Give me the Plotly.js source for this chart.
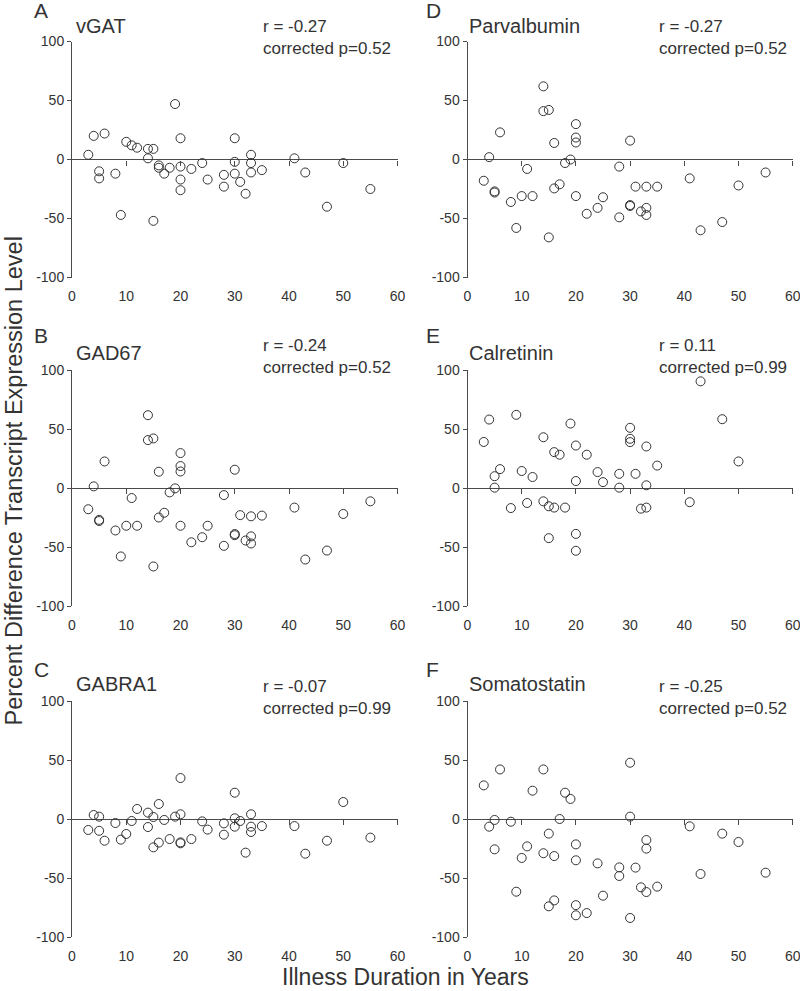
<!DOCTYPE html>
<html>
<head>
<meta charset="utf-8">
<script src="https://cdn.plot.ly/plotly-3.0.1.min.js"></script>
<style>
html,body{margin:0;padding:0;background:#ffffff;}
#chart{width:800px;height:991px;}
</style>
</head>
<body>
<div id="chart"></div>
<script>
// ---------- data (illness duration in years vs percent difference) ----------
const duration = [3,4,5,5,6,8,9,10,11,12,14,14,15,15,16,16,17,18,19,20,20,20,20,22,24,25,28,28,30,30,30,31,32,33,33,33,35,41,43,47,50,55];
const durationCalretinin = [3,4,5,5,6,8,9,10,11,12,14,14,15,15,16,16,17,18,19,20,20,20,20,22,24,25,28,28,30,30,30,31,32,33,33,33,35,41,43,47,50];

const vGAT = [4,20,-10,-16,22,-12,-47,15,12,10,9,1,9,-52,-5,-7,-12,-7,47,18,-6,-17,-26,-8,-3,-17,-13,-23,18,-2,-12,-19,-29,4,-3,-11,-9,1,-11,-40,-3,-25];
const gad67 = [-18,1.4,-27,-28,22.5,-36,-58,-32,-8.5,-32,61.7,40.6,42,-66.5,13.8,-25,-21,-3.7,-0.3,29.6,18.6,14,-32,-46,-41.7,-32,-6,-49,15.5,-39,-40,-23,-44.5,-24,-41,-47,-23.4,-16.6,-60.6,-53,-22,-11.3];
const gabra1 = [-9.3,3.4,2,-10,-18.4,-3.4,-17.5,-12.7,-1.7,8.5,5.4,-6.8,1.7,-24,12.7,-20,-0.8,-17,2,34.7,4,-19.8,-20.6,-17,-2,-9,-3.7,-13.3,22.3,0.6,-6.5,-1.7,-28.5,4,-6.5,-11,-6,-6,-29.4,-18.4,14.4,-15.8];
const parvalbumin = [-18,2,-27,-28,23,-36,-58,-31,-8,-31,62,41,42,-66,14,-24.5,-21,-3,0,30,18.6,14.4,-31,-46,-41,-32,-6,-49,16,-38.6,-39.4,-23,-44,-23,-41,-47,-23,-16,-60,-53,-22,-11];
const calretinin = [39,58,10,0.3,16,-17,62,14.4,-12.7,9.3,43,-11.3,-15.5,-42.5,30.4,-16.6,28.2,-16.6,54.6,36,5.9,-38.9,-53.2,28.2,13.5,5,12,0.3,51,41.7,38.9,12,-17.5,35.2,2.3,-16.6,19,-12,90.4,58.3,22.5];
const somatostatin = [28.5,-6.5,-0.8,-25.7,42,-2.3,-61.6,-33,-23.2,24,42,-29,-12.4,-74,-31.4,-69,0,22.3,17,-21.5,-35,-73,-81.6,-79.7,-37.6,-65,-41,-48.3,47.7,2,-83.9,-41.2,-57.9,-17.8,-25.1,-61.9,-57.3,-6.2,-46.6,-12.4,-19.5,-45.5];

const panelLetters = ['A','D','B','E','C','F'];
const geneNames = ['vGAT','Parvalbumin','GAD67','Calretinin','GABRA1','Somatostatin'];
const rValues = ['r = -0.27','r = -0.27','r = -0.24','r = 0.11','r = -0.07','r = -0.25'];
const pValues = ['corrected p=0.52','corrected p=0.52','corrected p=0.52','corrected p=0.99','corrected p=0.99','corrected p=0.52'];
const xTicks = [0,10,20,30,40,50,60];
const yTicks = [-100,-50,0,50,100];
const xTitle = 'Illness Duration in Years';
const yTitle = 'Percent Difference Transcript Expression Level';

const seriesX = [duration, duration, duration, durationCalretinin, duration, duration];
const seriesY = [vGAT, parvalbumin, gad67, calretinin, gabra1, somatostatin];

// ---------- layout geometry (pixels) ----------
const W = 800, H = 991;
const FONT = '"Liberation Sans", Arial, Helvetica, sans-serif';
const INK = '#333333', LINE = '#4a4a4a';
const px = v => v / W, py = v => 1 - v / H;

const colX = [[72, 397.5], [467.5, 792.7]];
const rowY = [[41.5, 277.5], [370, 606], [701, 937]];
const letterX = [33, 425], letterY = [11, 335, 669];
const geneX = [75, 468.3], geneY = [26, 353, 684];
const statX = [262, 658], statY = [37.7, 356, 697.7];

const traces = [];
const annotations = [];
const layout = {
  width: W, height: H,
  margin: {l: 0, r: 0, t: 0, b: 0},
  paper_bgcolor: '#ffffff', plot_bgcolor: 'rgba(0,0,0,0)',
  showlegend: false,
  font: {family: FONT, color: INK},
  annotations: annotations
};

for (let i = 0; i < 6; i++) {
  const n = i + 1;
  const col = i % 2, row = Math.floor(i / 2);
  const sx = n === 1 ? '' : String(n);
  const m = n + 6;
  const xd = [px(colX[col][0]), px(colX[col][1])];
  const yd = [py(rowY[row][1]), py(rowY[row][0])];

  layout['xaxis' + sx] = {
    domain: xd, anchor: 'y' + sx, range: [0, 60],
    tickmode: 'array', tickvals: xTicks, ticktext: xTicks.map(String),
    ticks: 'outside', ticklen: 6, tickcolor: 'rgba(0,0,0,0)',
    ticklabeloverflow: 'allow',
    showline: false, showgrid: false, zeroline: false,
    tickfont: {family: FONT, size: 14, color: INK}, fixedrange: true
  };
  layout['yaxis' + sx] = {
    domain: yd, anchor: 'x' + sx, range: [-100, 100],
    tickmode: 'array', tickvals: yTicks, ticktext: yTicks.map(String),
    ticks: 'outside', ticklen: 4, tickwidth: 1, tickcolor: LINE,
    ticklabeloverflow: 'allow',
    showline: true, linecolor: LINE, linewidth: 1,
    showgrid: false, zeroline: true, zerolinecolor: LINE, zerolinewidth: 1,
    tickfont: {family: FONT, size: 14, color: INK}, fixedrange: true
  };
  // axis carrying the small tick marks on the zero line
  layout['xaxis' + m] = {
    overlaying: 'x' + sx, anchor: 'free', position: (yd[0] + yd[1]) / 2,
    side: 'bottom', range: [0, 60],
    tickmode: 'array', tickvals: xTicks.slice(1),
    ticks: 'outside', ticklen: 5, tickwidth: 1, tickcolor: LINE,
    showticklabels: false, showline: false, showgrid: false, zeroline: false, fixedrange: true
  };

  traces.push({
    type: 'scatter', mode: 'markers',
    x: seriesX[i], y: seriesY[i],
    xaxis: 'x' + sx, yaxis: 'y' + sx,
    marker: {symbol: 'circle-open', size: 9, color: INK, line: {width: 1, color: INK}},
    hoverinfo: 'x+y'
  });
  traces.push({
    type: 'scatter', mode: 'markers', x: [], y: [],
    xaxis: 'x' + m, yaxis: 'y' + sx, hoverinfo: 'skip'
  });

  annotations.push({
    xref: 'paper', yref: 'paper', x: px(letterX[col]), y: py(letterY[row]),
    xanchor: 'left', yanchor: 'middle', showarrow: false, borderpad: 0,
    text: panelLetters[i], font: {family: FONT, size: 21, color: INK}
  });
  annotations.push({
    xref: 'paper', yref: 'paper', x: px(geneX[col]), y: py(geneY[row]),
    xanchor: 'left', yanchor: 'middle', showarrow: false, borderpad: 0,
    text: geneNames[i], font: {family: FONT, size: 20, color: INK}
  });
  annotations.push({
    xref: 'paper', yref: 'paper', x: px(statX[col]), y: py(statY[row]),
    xanchor: 'left', yanchor: 'middle', align: 'left', showarrow: false, borderpad: 0,
    text: rValues[i] + '<br>' + pValues[i], font: {family: FONT, size: 17, color: INK}
  });
}

annotations.push({
  xref: 'paper', yref: 'paper', x: px(405), y: py(977),
  xanchor: 'center', yanchor: 'middle', showarrow: false, borderpad: 0,
  text: xTitle, font: {family: FONT, size: 23, color: INK}
});
annotations.push({
  xref: 'paper', yref: 'paper', x: px(13), y: py(481.5),
  xanchor: 'center', yanchor: 'middle', showarrow: false, borderpad: 0, textangle: -90,
  text: yTitle, font: {family: FONT, size: 23.5, color: INK}
});

Plotly.newPlot('chart', traces, layout, {displayModeBar: false, responsive: false});
</script>
</body>
</html>
